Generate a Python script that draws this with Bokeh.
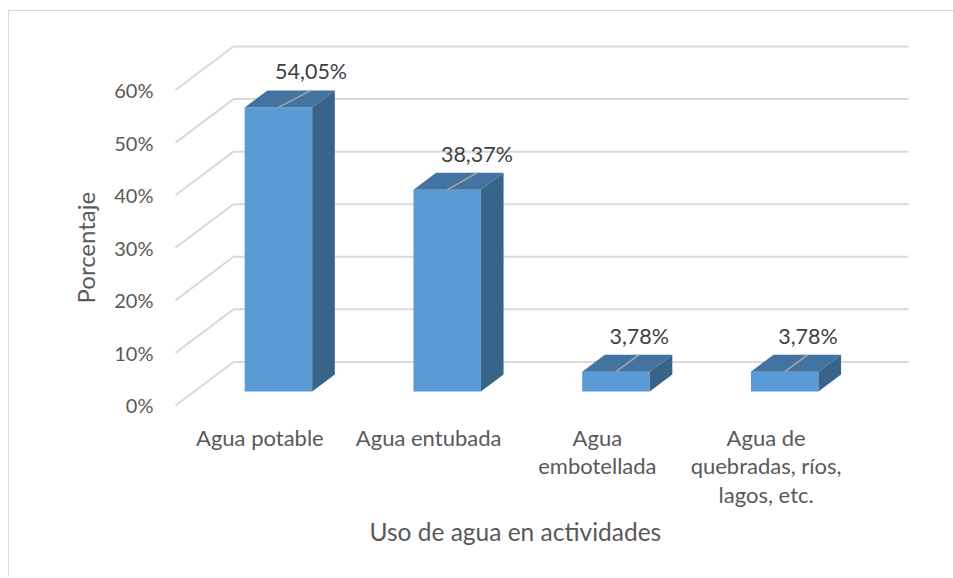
from bokeh.plotting import figure
from bokeh.models import Range1d, FixedTicker, PrintfTickFormatter, ColumnDataSource, Title
from bokeh.embed import file_html
from bokeh.resources import INLINE
from bokeh.core.properties import value

# ---- data ----
categories = ["Agua potable", "Agua entubada", "Agua\nembotellada",
              "Agua de\nquebradas, ríos,\nlagos, etc."]
values = [54.05, 38.37, 3.78, 3.78]
y_ticks = [0, 10, 20, 30, 40, 50, 60]
x_title = "Uso de agua en actividades"
y_title = "Porcentaje"

# ---- 3D projection styling constants ----
PX_PER_CAT = 168.75
PX_PER_PCT = 5.25
KX = 58 / PX_PER_CAT      # depth shift in category units
KY = 43.5 / PX_PER_PCT    # depth shift in % units
Z0, Z1 = 0.32, 0.71       # bar front / back depth
HW = 0.2                  # bar half-width (category units)
LEAN = 0.0011             # label lean to the right, per % of height
LABEL_GAP = 6             # px between leader end and label box

def proj(x, v, z):
    return x + KX * z, v + KY * z

n = len(categories)
ymax = max(y_ticks)
padx = 3 / PX_PER_CAT
pady = 3 / PX_PER_PCT

FONT = "Lato"
GRID = "#d9d9d9"
AXIS_TXT = "#595959"

p = figure(width=945, height=566, output_backend="svg", toolbar_location=None,
           x_range=Range1d(-padx, n + KX + padx),
           y_range=Range1d(-pady, ymax + KY + pady),
           min_border_left=163, min_border_right=43,
           min_border_top=32, min_border_bottom=169)
p.styles = {"border-left": "1px solid #d9d9d9", "border-top": "1px solid #d9d9d9",
            "margin-left": "8px", "margin-top": "10px"}
p.outline_line_color = None
p.xgrid.visible = False
p.ygrid.visible = False
p.background_fill_color = "white"
p.border_fill_color = "white"

# ---- walls: back gridlines and left-wall diagonals ----
bx0, by = zip(*[proj(0, t, 1) for t in y_ticks])
bx1 = [proj(n, t, 1)[0] for t in y_ticks]
p.segment(x0=list(bx0), y0=list(by), x1=bx1, y1=list(by), line_color=GRID, line_width=2)
p.segment(x0=[0] * len(y_ticks), y0=y_ticks, x1=list(bx0), y1=list(by),
          line_color=GRID, line_width=2)

# ---- bars ----
front, top, side = dict(l=[], r=[], b=[], t=[]), dict(xs=[], ys=[]), dict(xs=[], ys=[])
lead = dict(x0=[], y0=[], x1=[], y1=[])
lab = dict(x=[], y=[], text=[])
for i, v in enumerate(values):
    xc = i + 0.5
    l0, b0 = proj(xc - HW, 0, Z0)
    r0, t0 = proj(xc + HW, v, Z0)
    front["l"].append(l0); front["r"].append(r0); front["b"].append(b0); front["t"].append(t0)
    pts = [proj(xc - HW, v, Z0), proj(xc + HW, v, Z0), proj(xc + HW, v, Z1), proj(xc - HW, v, Z1)]
    top["xs"].append([q[0] for q in pts]); top["ys"].append([q[1] for q in pts])
    pts = [proj(xc + HW, 0, Z0), proj(xc + HW, v, Z0), proj(xc + HW, v, Z1), proj(xc + HW, 0, Z1)]
    side["xs"].append([q[0] for q in pts]); side["ys"].append([q[1] for q in pts])
    a = proj(xc, v, Z0)
    b = proj(xc + LEAN * v, v, Z1)
    lead["x0"].append(a[0]); lead["y0"].append(a[1]); lead["x1"].append(b[0]); lead["y1"].append(b[1])
    lab["x"].append(b[0]); lab["y"].append(b[1] + LABEL_GAP / PX_PER_PCT)
    lab["text"].append(f"{v:.2f}".replace(".", ",") + "%")

p.quad(left=front["l"], right=front["r"], bottom=front["b"], top=front["t"],
       fill_color="#5b9bd5", line_color=None)
p.patches(xs=top["xs"], ys=top["ys"], fill_color="#4374a1", line_color=None)
p.patches(xs=side["xs"], ys=side["ys"], fill_color="#386489", line_color=None)
p.segment(x0=lead["x0"], y0=lead["y0"], x1=lead["x1"], y1=lead["y1"],
          line_color="#a6a6a6", line_width=1.5)
p.text(x="x", y="y", text="text", source=ColumnDataSource(lab),
       text_align="center", text_baseline="bottom",
       text_font=value(FONT), text_font_size="21.5px", text_color="#404040")

# ---- axes ----
ya = p.yaxis[0]
ya.ticker = FixedTicker(ticks=y_ticks)
ya.formatter = PrintfTickFormatter(format="%d%%")
ya.axis_line_color = None
ya.major_tick_line_color = None
ya.minor_tick_line_color = None
ya.major_tick_out = 0
ya.major_tick_in = 0
ya.major_label_standoff = 19
ya.major_label_text_font = FONT
ya.major_label_text_font_size = "20px"
ya.major_label_text_color = AXIS_TXT

xa = p.xaxis[0]
xa.ticker = FixedTicker(ticks=[i + 0.5 for i in range(n)])
xa.major_label_overrides = {i + 0.5: c for i, c in enumerate(categories)}
xa.axis_line_color = None
xa.major_tick_line_color = None
xa.minor_tick_line_color = None
xa.major_tick_out = 0
xa.major_tick_in = 0
xa.major_label_standoff = 15
xa.major_label_text_font = FONT
xa.major_label_text_font_size = "22px"
xa.major_label_text_color = AXIS_TXT
xa.major_label_text_line_height = 1.06

# ---- axis titles, centred on the front axes as in the source ----
p.add_layout(Title(text=x_title, align="left", offset=197, standoff=8,
                   text_font=FONT, text_font_size="24.5px", text_font_style="normal",
                   text_color=AXIS_TXT), "below")
p.add_layout(Title(text=y_title, align="left", offset=105, standoff=24,
                   text_font=FONT, text_font_size="24px", text_font_style="normal",
                   text_color=AXIS_TXT), "left")

open("out.html", "w").write(file_html(p, INLINE))
